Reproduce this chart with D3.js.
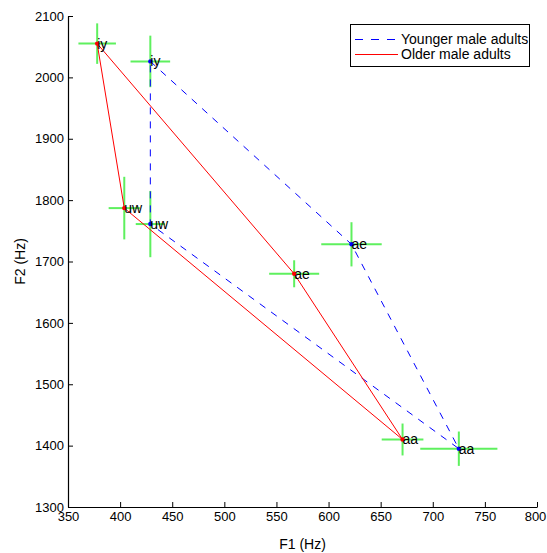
<!DOCTYPE html>
<html>
<head>
<meta charset="utf-8">
<script src="https://cdn.jsdelivr.net/npm/d3@7"></script>
<style>
  html, body { margin: 0; padding: 0; background: #fff; }
  svg { display: block; font-family: "Liberation Sans", Arial, sans-serif; }
</style>
</head>
<body>
<svg id="chart" width="547" height="553"></svg>
<script>
// Vowel formant means (F1, F2) and their spread, per speaker group
const vowels = ["iy", "uw", "ae", "aa"];

const youngerF1 = [429, 429, 622, 725];
const youngerF2 = [2026, 1761, 1728, 1395];
const youngerF1Sd = [19, 14, 29, 37];
const youngerF2Sd = [42, 54, 36, 28];

const olderF1 = [378, 404, 567, 671];
const olderF2 = [2055, 1787, 1680, 1410];
const olderF1Sd = [18, 15, 24, 20];
const olderF2Sd = [33, 51, 22, 26];

// Outline order of the vowel space polygon: iy -> ae -> aa -> uw -> iy
const outlineOrder = [0, 2, 3, 1, 0];

const xTicks = [350, 400, 450, 500, 550, 600, 650, 700, 750, 800];
const yTicks = [1300, 1400, 1500, 1600, 1700, 1800, 1900, 2000, 2100];

const seriesNames = ["Younger male adults", "Older male adults"];

const svg = d3.select("#chart");
const plot = { left: 68, right: 537, top: 16, bottom: 507 };

const x = d3.scaleLinear().domain([350, 800]).range([plot.left, plot.right]);
const y = d3.scaleLinear().domain([1300, 2100]).range([plot.bottom, plot.top]);

const groups = [
  { name: seriesNames[0], f1: youngerF1, f2: youngerF2, s1: youngerF1Sd, s2: youngerF2Sd,
    color: "#0000ff", dash: "7,7" },
  { name: seriesNames[1], f1: olderF1, f2: olderF2, s1: olderF1Sd, s2: olderF2Sd,
    color: "#ff0000", dash: null }
];

// Axes (ticks pointing into the plot area, no box)
const fmt = d3.format("d");
const xAxis = d3.axisBottom(x).tickValues(xTicks).tickFormat(fmt)
  .tickSizeInner(-5).tickSizeOuter(0).tickPadding(8);
const yAxis = d3.axisLeft(y).tickValues(yTicks).tickFormat(fmt)
  .tickSizeInner(-5).tickSizeOuter(0).tickPadding(8);

const gx = svg.append("g").attr("transform", `translate(0,${plot.bottom})`).call(xAxis);
const gy = svg.append("g").attr("transform", `translate(${plot.left},0)`).call(yAxis);

[gx, gy].forEach(g => {
  g.select(".domain").attr("stroke", "#000").attr("stroke-width", 1.2);
  g.selectAll(".tick line").attr("stroke", "#000").attr("stroke-width", 1);
  g.selectAll(".tick text").attr("fill", "#000").style("font-size", "13px")
    .style("font-family", "'Liberation Sans', Arial, sans-serif");
});
gx.selectAll(".tick text").attr("dy", "0.71em").attr("y", 5);
// keep the last label inside the page edge
gx.selectAll(".tick text").filter(d => d === 800).attr("x", -2);
gy.selectAll(".tick text").attr("x", -4);

// Axis titles
svg.append("text")
  .attr("x", (plot.left + plot.right) / 2).attr("y", 549)
  .attr("text-anchor", "middle").style("font-size", "14px").text("F1 (Hz)");
svg.append("text")
  .attr("transform", `translate(25,${(plot.top + plot.bottom) / 2}) rotate(-90)`)
  .attr("text-anchor", "middle").style("font-size", "14px").text("F2 (Hz)");

// Spread crosses
const crossG = svg.append("g").attr("stroke", "#5ef05e").attr("stroke-width", 2);
groups.forEach(g => {
  vowels.forEach((v, i) => {
    crossG.append("line")
      .attr("x1", x(g.f1[i] - g.s1[i])).attr("x2", x(g.f1[i] + g.s1[i]))
      .attr("y1", y(g.f2[i])).attr("y2", y(g.f2[i]));
    crossG.append("line")
      .attr("x1", x(g.f1[i])).attr("x2", x(g.f1[i]))
      .attr("y1", y(g.f2[i] - g.s2[i])).attr("y2", y(g.f2[i] + g.s2[i]));
  });
});

// Vowel space outlines
const line = d3.line().x(d => x(d[0])).y(d => y(d[1]));
groups.forEach(g => {
  const pts = outlineOrder.map(i => [g.f1[i], g.f2[i]]);
  svg.append("path")
    .attr("d", line(pts))
    .attr("fill", "none")
    .attr("stroke", g.color)
    .attr("stroke-width", 1)
    .attr("stroke-dasharray", g.dash);
});

// Point markers and vowel labels
groups.forEach(g => {
  vowels.forEach((v, i) => {
    svg.append("circle")
      .attr("cx", x(g.f1[i])).attr("cy", y(g.f2[i])).attr("r", 2.2)
      .attr("fill", g.color);
    svg.append("text")
      .attr("x", x(g.f1[i])).attr("y", y(g.f2[i]))
      .attr("dy", "0.35em")
      .style("font-size", "14px").attr("fill", "#000")
      .text(v);
  });
});

// Legend
const legend = svg.append("g");
legend.append("rect")
  .attr("x", 350.5).attr("y", 24.5).attr("width", 179).attr("height", 42)
  .attr("fill", "#fff").attr("stroke", "#000").attr("stroke-width", 1);
groups.forEach((g, k) => {
  const ly = 39.5 + k * 15;
  legend.append("line")
    .attr("x1", 355).attr("x2", 398).attr("y1", ly).attr("y2", ly)
    .attr("stroke", g.color).attr("stroke-width", 1)
    .attr("stroke-dasharray", g.dash ? "8,8" : null);
  legend.append("text")
    .attr("x", 401).attr("y", ly).attr("dy", "0.35em")
    .style("font-size", "14px").text(g.name);
});
</script>
</body>
</html>
